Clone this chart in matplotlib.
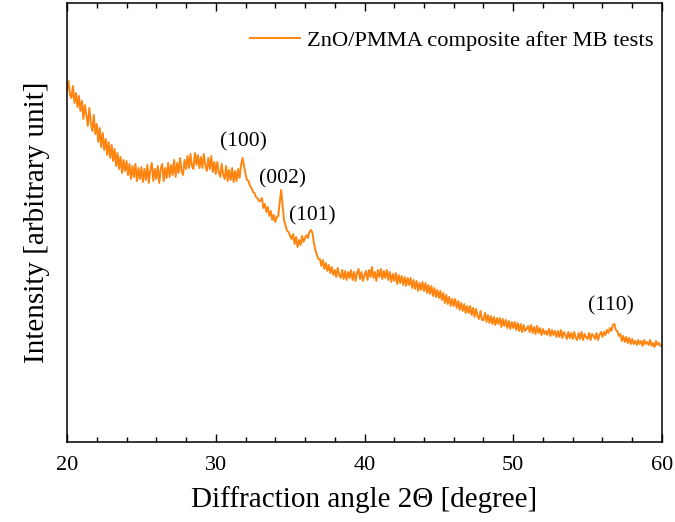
import numpy as np
import matplotlib
matplotlib.use("Agg")
import matplotlib.pyplot as plt
from matplotlib.ticker import MultipleLocator

# XRD pattern, one row per degree (step 0.1 deg)
two_theta = np.round(np.arange(20.0, 60.05, 0.1), 1)
intensity = [
    352, 361, 347, 344, 356, 339, 349, 335, 346, 331,  # 20
    341, 323, 337, 327, 316, 334, 319, 311, 327, 308,  # 21
    318, 300, 314, 295, 309, 292, 303, 287, 300, 284,  # 22
    297, 281, 293, 276, 289, 273, 285, 269, 282, 271,  # 23
    281, 267, 278, 263, 276, 265, 278, 261, 274, 263,  # 24
    275, 260, 273, 262, 277, 259, 272, 279, 261, 273,  # 25
    263, 276, 259, 273, 278, 261, 274, 264, 279, 265,  # 26
    277, 267, 282, 265, 279, 269, 284, 271, 267, 282,  # 27
    273, 286, 274, 288, 276, 273, 289, 277, 287, 274,  # 28
    285, 274, 288, 276, 271, 284, 273, 286, 270, 280,  # 29
    268, 280, 270, 265, 278, 267, 263, 276, 261, 272,  # 30
    262, 274, 260, 271, 261, 273, 264, 277, 284, 276,  # 31
    268, 262, 261, 256, 254, 250, 249, 245, 244, 241,  # 32
    241, 244, 234, 238, 230, 235, 226, 231, 222, 227,  # 33
    220, 225, 226, 240, 252, 235, 221, 216, 211, 210,  # 34
    206, 203, 208, 198, 205, 195, 202, 197, 206, 200,  # 35
    204, 207, 204, 210, 212, 209, 199, 192, 187, 183,  # 36
    183, 176, 182, 173, 179, 171, 177, 169, 175, 167,  # 37
    172, 165, 174, 167, 164, 172, 163, 171, 162, 170,  # 38
    164, 172, 162, 170, 161, 169, 173, 163, 170, 161,  # 39
    167, 171, 162, 172, 165, 175, 164, 170, 161, 172,  # 40
    165, 173, 163, 171, 164, 172, 162, 170, 160, 168,  # 41
    161, 169, 158, 167, 159, 166, 157, 165, 156, 164,  # 42
    157, 164, 154, 162, 153, 161, 151, 159, 152, 160,  # 43
    151, 159, 149, 157, 148, 156, 146, 154, 145, 152,  # 44
    144, 151, 142, 149, 139, 147, 138, 145, 136, 143,  # 45
    136, 143, 134, 141, 132, 139, 131, 138, 129, 136,  # 46
    129, 136, 127, 134, 125, 133, 126, 123, 131, 122,  # 47
    122, 129, 120, 127, 119, 126, 118, 125, 117, 124,  # 48
    118, 124, 115, 123, 116, 122, 114, 121, 113, 120,  # 49
    114, 120, 112, 119, 111, 118, 110, 117, 111, 113,  # 50
    116, 110, 117, 109, 115, 108, 116, 109, 114, 107,  # 51
    113, 108, 111, 107, 113, 106, 112, 107, 111, 105,  # 52
    111, 105, 112, 104, 110, 107, 103, 110, 104, 109,  # 53
    103, 110, 104, 102, 109, 103, 110, 102, 108, 105,  # 54
    103, 109, 102, 108, 106, 103, 109, 102, 107, 110,  # 55
    105, 110, 107, 112, 109, 114, 111, 117, 118, 112,  # 56
    111, 106, 108, 101, 106, 100, 105, 99, 104, 98,    # 57
    103, 98, 101, 97, 102, 98, 101, 96, 102, 98,       # 58
    100, 97, 102, 96, 99, 95, 101, 97, 99, 96,         # 59
    97,                                                # 60
]

peak_labels = ["(100)", "(002)", "(101)", "(110)"]
peak_x = [31.85, 34.5, 36.5, 56.6]
peak_y = [300, 263, 226, 136]

plt.rcParams['font.family'] = ['Liberation Serif', 'DejaVu Serif']
plt.rcParams['mathtext.fontset'] = 'stix'

fig = plt.figure(figsize=(6.75, 5.22), dpi=100)
ax = fig.add_axes([0.0993, 0.1533, 0.8814, 0.841])

ax.plot(two_theta, intensity, color='#ff8510', linewidth=1.4,
        label='ZnO/PMMA composite after MB tests')

for lab, px, py in zip(peak_labels, peak_x, peak_y):
    ax.text(px, py, lab, ha='center', va='center', fontsize=15.5)

ax.set_xlim(20, 60)
ax.set_ylim(0, 439)
ax.xaxis.set_major_locator(MultipleLocator(10))
ax.xaxis.set_minor_locator(MultipleLocator(2))
ax.set_yticks([])
ax.tick_params(axis='x', which='both', direction='in', top=True,
               labelsize=16, pad=10)
ax.tick_params(axis='x', which='major', length=6, width=1)
ax.tick_params(axis='x', which='minor', length=3.5, width=1)
for sp in ax.spines.values():
    sp.set_linewidth(1.1)

ax.set_xlabel('Diffraction angle 2\u0398 [degree]', fontsize=21, labelpad=8)
ax.set_ylabel('Intensity [arbitrary unit]', fontsize=21, labelpad=12)

ax.legend(loc='upper right', bbox_to_anchor=(1.0, 0.955), frameon=False,
          fontsize=16.2, handlelength=2.2, handletextpad=0.35,
          borderpad=0.35, borderaxespad=0.0)

fig.savefig('out.png', dpi=100)
